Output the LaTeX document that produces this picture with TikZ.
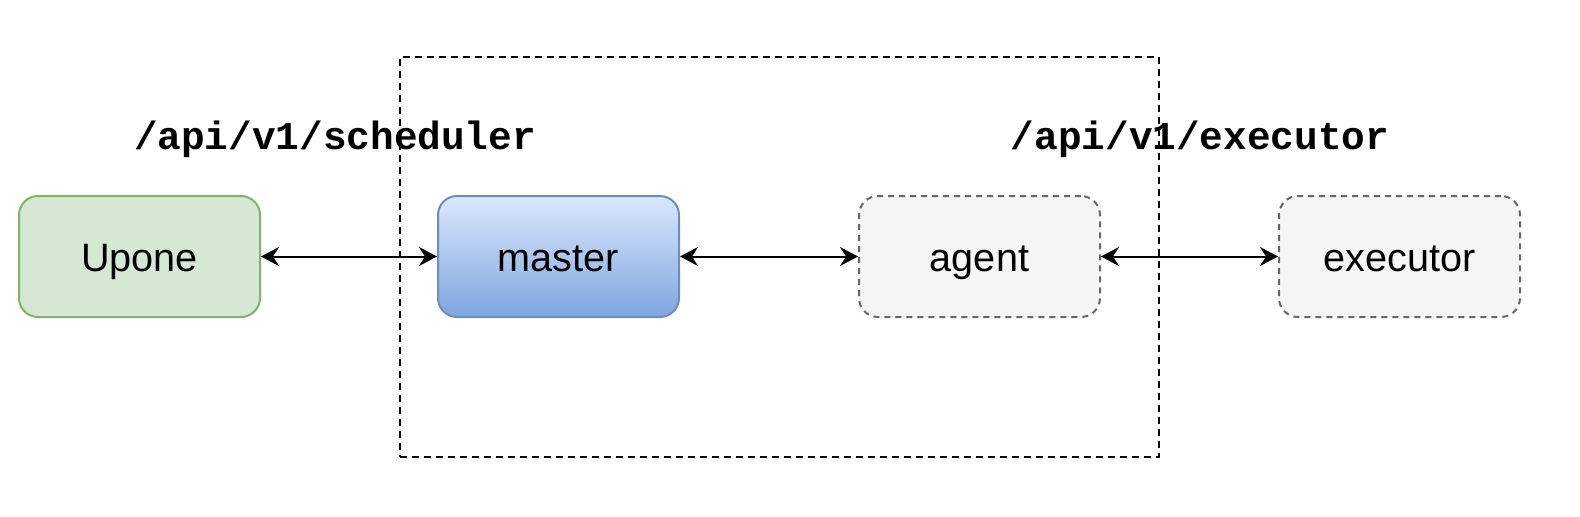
\documentclass[tikz,border=0pt]{standalone}
\usepackage{fontspec}
\setmainfont{Liberation Sans}
\newfontfamily\monobold[BoldFont={* Bold}]{Liberation Mono}
\usetikzlibrary{arrows.meta}
\definecolor{upfill}{HTML}{D5E8D4}
\definecolor{updraw}{HTML}{82B366}
\definecolor{mtop}{HTML}{DAE8FC}
\definecolor{mbot}{HTML}{7EA6E0}
\definecolor{mdraw}{HTML}{6C8EBF}
\definecolor{gfill}{HTML}{F5F5F5}
\definecolor{gdraw}{HTML}{666666}
\begin{document}
\begin{tikzpicture}[x=0.5pt,y=-0.5pt,
  box/.style={rectangle, rounded corners=9.5pt, line width=1pt,
    minimum width=120.5pt, minimum height=60.5pt, inner sep=0pt,
    font=\fontsize{19.8pt}{23pt}\selectfont, text height=15pt, text depth=0pt},
  greenbox/.style={box, draw=updraw, fill=upfill},
  bluebox/.style={box, draw=mdraw, top color=mtop, bottom color=mbot},
  greybox/.style={box, draw=gdraw, fill=gfill, dash pattern=on 3pt off 2.5pt},
  groupbox/.style={rectangle, draw=black, line width=1pt, dash pattern=on 3.5pt off 2.5pt,
    minimum width=379.5pt, minimum height=200pt, inner sep=0pt},
  pathlbl/.style={inner sep=0pt, anchor=base, font=\monobold\bfseries\fontsize{19.7pt}{23pt}\selectfont},
  conn/.style={line width=1pt, >={Stealth[length=9pt,width=9.5pt,inset=3pt]}, <->}
]
\useasboundingbox (0,0) rectangle (1580,516);
\node[groupbox] (grp) at (779.5,257) {};
\node[greenbox] (upone) at (139.5,256.5) {Upone};
\node[bluebox] (master) at (558.5,256.5) {master};
\node[greybox] (agent) at (979.5,256.5) {agent};
\node[greybox] (executor) at (1399.5,256.5) {executor};
\node[pathlbl] (lsched) at (335,149) {/api/v1/scheduler};
\node[pathlbl] (lexec) at (1200,149) {/api/v1/executor};
\draw[conn] (upone.east) -- (master.west);
\draw[conn] (master.east) -- (agent.west);
\draw[conn] (agent.east) -- (executor.west);
\end{tikzpicture}
\end{document}
